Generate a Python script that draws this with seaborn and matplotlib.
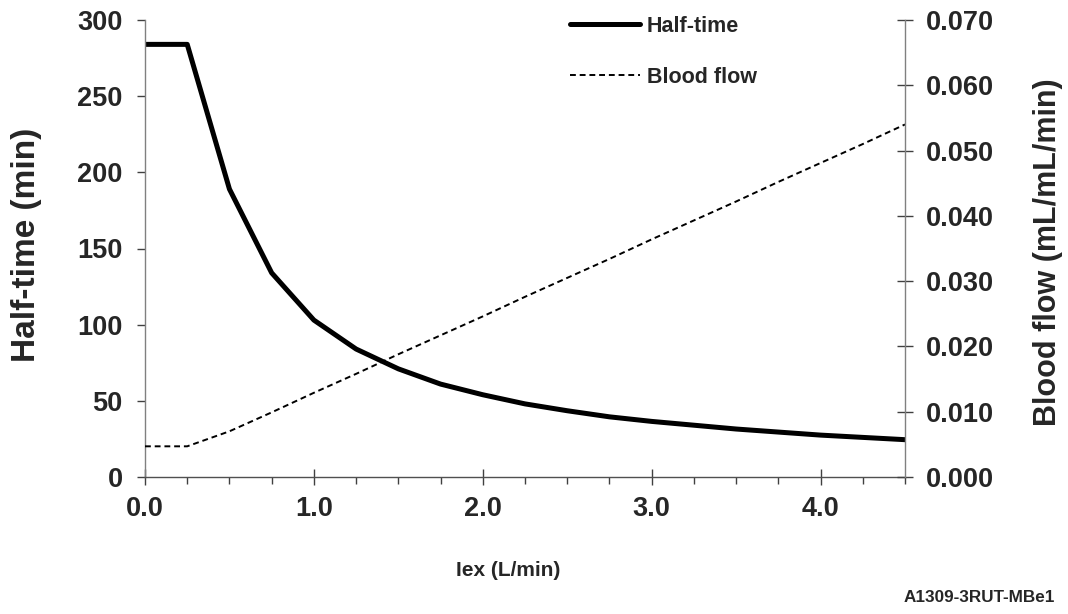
import numpy as np
import pandas as pd
import matplotlib
matplotlib.use("Agg")
import matplotlib.pyplot as plt
import seaborn as sns
from matplotlib.ticker import MultipleLocator, FormatStrFormatter
from matplotlib.lines import Line2D

iex = [0.0, 0.25, 0.5, 0.75, 1.0, 1.25, 1.5, 1.75, 2.0, 2.25, 2.5, 2.75,
       3.0, 3.25, 3.5, 3.75, 4.0, 4.25, 4.5]
half_time = [284, 284, 189, 134, 103, 84, 71, 61, 54, 48, 43.5, 39.5,
             36.5, 34, 31.5, 29.5, 27.5, 26, 24.5]
blood_flow = [0.0047, 0.0047, 0.0070, 0.0099, 0.0129, 0.0158, 0.0188, 0.0217,
              0.0246, 0.0276, 0.0305, 0.0334, 0.0364, 0.0393, 0.0422, 0.0452,
              0.0481, 0.0510, 0.0540]

df = pd.DataFrame({"iex": iex, "half": half_time, "flow": blood_flow})

sns.set_style("white")
plt.rcParams["font.family"] = ["Liberation Sans", "DejaVu Sans"]
plt.rcParams["font.weight"] = "bold"

fig = plt.figure(figsize=(10.68, 6.14), dpi=100)
ax = fig.add_axes([145/1068, 1-477/614, (905-145)/1068, (477-20)/614])
ax2 = ax.twinx()

sns.lineplot(data=df, x="iex", y="half", ax=ax, color="black", linewidth=3.6)
sns.lineplot(data=df, x="iex", y="flow", ax=ax2, color="black", linewidth=1.4)
ax2.lines[-1].set_dashes((3.0, 2.0))

ax.set_xlim(0, 4.5)
ax.set_ylim(0, 300)
ax2.set_ylim(0, 0.07)

ax.xaxis.set_major_locator(MultipleLocator(1.0))
ax.xaxis.set_minor_locator(MultipleLocator(0.25))
ax.xaxis.set_major_formatter(FormatStrFormatter("%.1f"))
ax.yaxis.set_major_locator(MultipleLocator(50))
ax2.yaxis.set_major_locator(MultipleLocator(0.01))
ax2.yaxis.set_major_formatter(FormatStrFormatter("%.3f"))

ax.set_xlabel("")
ax.set_ylabel("")
ax2.set_xlabel("")
ax2.set_ylabel("")

for a in (ax, ax2):
    for s in a.spines.values():
        s.set_visible(False)
ax.spines["left"].set_visible(True)
ax.spines["left"].set_color("#808080")
ax.spines["left"].set_linewidth(1.0)
ax.spines["bottom"].set_visible(True)
ax.spines["bottom"].set_color("#505050")
ax.spines["bottom"].set_linewidth(1.0)
ax2.spines["right"].set_visible(True)
ax2.spines["right"].set_color("#808080")
ax2.spines["right"].set_linewidth(1.0)

ax.tick_params(axis="x", which="major", direction="inout", length=11, width=1,
               color="#404040", pad=8.5, labelsize=19.5, bottom=True)
ax.tick_params(axis="x", which="minor", direction="out", length=5, width=1,
               color="#404040", bottom=True)
ax.tick_params(axis="y", which="major", direction="out", length=5.5, width=1,
               color="#404040", pad=10.5, labelsize=19.5, left=True)
ax2.tick_params(axis="y", which="major", direction="inout", length=11.5, width=1,
                color="#404040", pad=9.5, labelsize=19.5, right=True)
for lab in ax.get_xticklabels() + ax.get_yticklabels() + ax2.get_yticklabels():
    lab.set_fontweight("bold")

fig.text(27/1068, 1-245/614, "Half-time (min)", rotation=90, ha="center", va="center",
         fontsize=24, fontweight="bold")
fig.text(1048/1068, 1-252/614, "Blood flow (mL/mL/min)", rotation=90, ha="center",
         va="center", fontsize=22, fontweight="bold")
fig.text(508/1068, 1-570/614, "Iex (L/min)", ha="center", va="center",
         fontsize=15, fontweight="bold")
fig.text(1055/1068, 1-597/614, "A1309-3RUT-MBe1", ha="right", va="center",
         fontsize=12.3, fontweight="bold")

handles = [Line2D([0], [0], color="black", linewidth=3.6, solid_capstyle="round"),
           Line2D([0], [0], color="black", linewidth=1.4, dashes=(3.0, 2.0))]
fig.legend(handles, ["Half-time", "Blood flow"], loc="upper left",
           bbox_to_anchor=(570/1068, 1-16/614), frameon=False,
           prop={"size": 15.5, "weight": "bold"}, handlelength=3.25,
           handletextpad=0.33, labelspacing=1.38, borderpad=0, borderaxespad=0)

fig.savefig("out.png", dpi=100)
